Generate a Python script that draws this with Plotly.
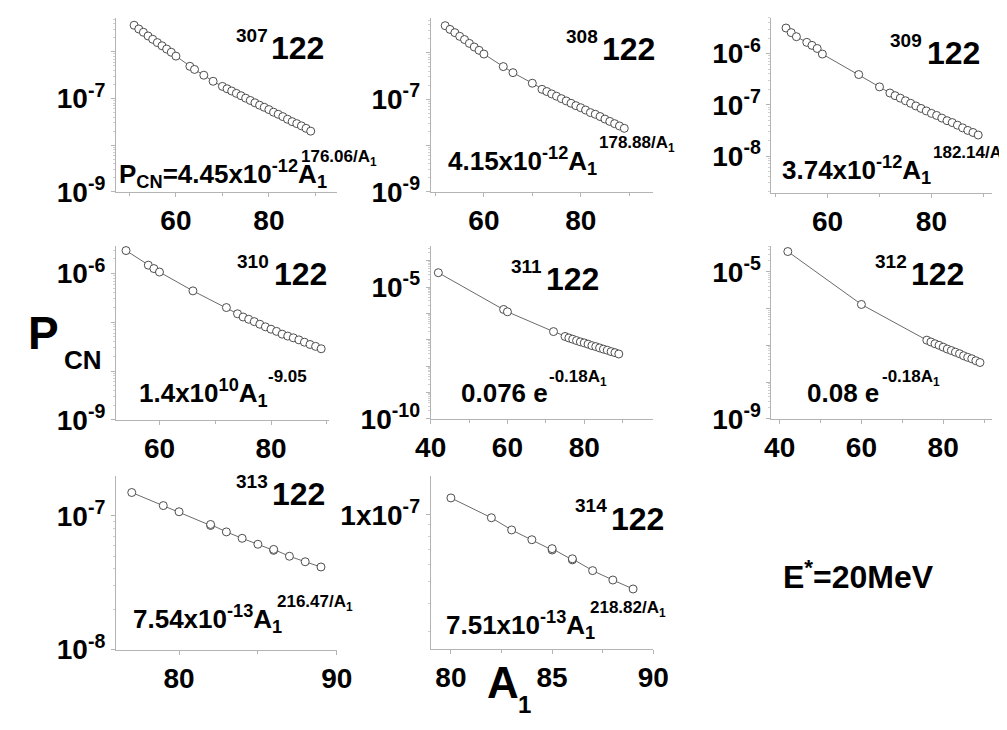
import math
import plotly.graph_objects as go

W, H = 1007, 730

# ---------------- data ----------------
a307 = [51, 52, 53, 54, 55, 56, 57, 58, 59, 60, 63, 64, 66, 68, 70, 71, 72, 73, 74, 75,
        76, 77, 78, 79, 80, 81, 82, 83, 84, 85, 86, 87, 88, 89]
p307 = [3.72e-6, 3.09e-6, 2.63e-6, 2.19e-6, 1.86e-6, 1.58e-6, 1.35e-6, 1.15e-6, 9.8e-7, 8.1e-7,
        4.9e-7, 4.2e-7, 3.16e-7, 2.34e-7, 1.82e-7, 1.62e-7, 1.45e-7, 1.29e-7, 1.15e-7, 1.02e-7,
        9.1e-8, 8.1e-8, 7.2e-8, 6.5e-8, 5.8e-8, 5.1e-8, 4.6e-8, 4.1e-8, 3.6e-8, 3.2e-8,
        2.9e-8, 2.6e-8, 2.3e-8, 2.0e-8]

a308 = [52, 53, 54, 55, 56, 57, 58, 59, 60, 64, 66, 70, 72, 73, 74, 75, 76, 77, 78, 79,
        80, 81, 82, 83, 84, 85, 86, 87, 88, 89]
p308 = [3.8e-6, 3.16e-6, 2.69e-6, 2.24e-6, 1.91e-6, 1.58e-6, 1.32e-6, 1.12e-6, 9.3e-7,
        5.0e-7, 3.7e-7, 2.19e-7, 1.62e-7, 1.45e-7, 1.29e-7, 1.15e-7, 1.02e-7, 9.1e-8, 8.1e-8,
        7.2e-8, 6.5e-8, 5.8e-8, 5.1e-8, 4.7e-8, 4.2e-8, 3.7e-8, 3.3e-8, 2.95e-8, 2.63e-8, 2.34e-8]

a309 = [52, 53, 54, 56, 57, 58, 59, 66, 70, 72, 73, 74, 75, 76, 77, 78, 79, 80, 81, 82,
        83, 84, 85, 86, 87, 88, 89]
p309 = [3.16e-6, 2.57e-6, 2.14e-6, 1.66e-6, 1.45e-6, 1.26e-6, 9.8e-7, 3.9e-7, 2.24e-7,
        1.70e-7, 1.51e-7, 1.35e-7, 1.20e-7, 1.07e-7, 9.5e-8, 8.5e-8, 7.6e-8, 6.8e-8, 6.2e-8,
        5.5e-8, 4.9e-8, 4.5e-8, 4.0e-8, 3.55e-8, 3.16e-8, 2.88e-8, 2.57e-8]

a310 = [54, 58, 59, 60, 66, 72, 74, 75, 76, 77, 78, 79, 80, 81, 82, 83, 84, 85, 86, 87, 88, 89]
p310 = [2.95e-6, 1.48e-6, 1.26e-6, 1.07e-6, 4.4e-7, 2.0e-7, 1.49e-7, 1.28e-7, 1.15e-7,
        1.03e-7, 9.1e-8, 8.05e-8, 7.2e-8, 6.5e-8, 5.7e-8, 5.2e-8, 4.8e-8, 4.35e-8, 3.9e-8,
        3.5e-8, 3.2e-8, 2.86e-8]

a311 = [42, 59, 60, 72, 75, 76, 77, 78, 79, 80, 81, 82, 83, 84, 85, 86, 87, 88, 89]
p311 = [3.5e-5, 1.41e-6, 1.15e-6, 2.04e-7, 1.33e-7, 1.17e-7, 1.05e-7, 9.3e-8, 8.3e-8,
        7.6e-8, 6.8e-8, 6.0e-8, 5.5e-8, 4.9e-8, 4.4e-8, 4.0e-8, 3.55e-8, 3.24e-8, 2.88e-8]

a312 = [42, 60, 76, 77, 78, 79, 80, 81, 82, 83, 84, 85, 86, 87, 88, 89]
p312 = [3.55e-5, 1.29e-6, 1.38e-7, 1.23e-7, 1.10e-7, 1.0e-7, 8.9e-8, 7.9e-8, 7.2e-8,
        6.5e-8, 5.9e-8, 5.2e-8, 4.7e-8, 4.3e-8, 3.8e-8, 3.4e-8]

a313 = [77, 79, 80, 82, 82, 83, 84, 85, 86, 86, 87, 88, 89]
p313 = [1.49e-7, 1.19e-7, 1.07e-7, 8.45e-8, 8.6e-8, 7.57e-8, 6.78e-8, 6.12e-8, 5.51e-8,
        5.6e-8, 4.98e-8, 4.53e-8, 4.14e-8]

a314 = [80, 82, 83, 84, 85, 85, 86, 86, 87, 88, 89]
p314 = [1.19e-7, 9.7e-8, 8.55e-8, 7.73e-8, 6.95e-8, 7.05e-8, 6.28e-8, 6.35e-8, 5.62e-8,
        5.1e-8, 4.65e-8]

iso_labels = ["307", "308", "309", "310", "311", "312", "313", "314"]

# ---------------- layout helpers ----------------
def fx(x):
    return x / W

def fy(y):
    return 1 - y / H

FONT = "Liberation Sans"
AX = "#b4b4b4"

panels = [
    dict(a=a307, p=p307, box=(95, 323, 10, 188), xr=[47.1, 94.6], yr=[-9, -5.27],
         xt=[60, 80], xm=[50, 70, 90], yt=[-9, -8, -7, -6], yl={-7: "10<sup>-7</sup>", -9: "10<sup>-9</sup>"}),
    dict(a=a308, p=p308, box=(420, 650, 10, 188), xr=[49, 95], yr=[-9, -5.25],
         xt=[60, 80], xm=[50, 70, 90], yt=[-9, -8, -7, -6], yl={-7: "10<sup>-7</sup>", -9: "10<sup>-9</sup>"}),
    dict(a=a309, p=p309, box=(772, 1000, 10, 189), xr=[49.2, 91.7], yr=[-8.72, -5.3],
         xt=[60, 80], xm=[50, 70, 90], yt=[-8, -7, -6], yl={-6: "10<sup>-6</sup>", -7: "10<sup>-7</sup>", -8: "10<sup>-8</sup>"}),
    dict(a=a310, p=p310, box=(95, 315, 243, 421), xr=[52.2, 90.4], yr=[-9, -5.43],
         xt=[60, 80], xm=[70, 90], yt=[-9, -8, -7, -6], yl={-6: "10<sup>-6</sup>", -9: "10<sup>-9</sup>"}),
    dict(a=a311, p=p311, box=(420, 650, 243, 420), xr=[40, 98], yr=[-10, -3.43],
         xt=[40, 60, 80], xm=[50, 70, 90], yt=[-10, -9, -8, -7, -6, -5, -4], yl={-5: "10<sup>-5</sup>", -10: "10<sup>-10</sup>"}),
    dict(a=a312, p=p312, box=(772, 1000, 243, 420), xr=[38, 92], yr=[-9, -4.29],
         xt=[40, 60, 80], xm=[50, 70, 90], yt=[-9, -8, -7, -6, -5], yl={-5: "10<sup>-5</sup>", -9: "10<sup>-9</sup>"}),
    dict(a=a313, p=p313, box=(95, 323, 478, 656), xr=[76, 90], yr=[-8, -6.7],
         xt=[80, 90], xm=[85], yt=[-8, -7], yl={-7: "10<sup>-7</sup>", -8: "10<sup>-8</sup>"}),
    dict(a=a314, p=p314, box=(420, 650, 478, 655), xr=[79, 90], yr=[-7.6, -6.824],
         xt=[80, 85, 90], xm=[82.5, 87.5], yt=[-7], yl={-7: "1x10<sup>-7</sup>"}),
]

fig = go.Figure()
layout = dict(width=W, height=H, margin=dict(l=0, r=0, t=0, b=0),
              paper_bgcolor="white", plot_bgcolor="white", showlegend=False)

tickfont = dict(family=FONT, size=28, color="black", weight="bold")

for i, pn in enumerate(panels):
    n = "" if i == 0 else str(i + 1)
    x0, x1, yt_, yb_ = pn["box"]
    fig.add_trace(go.Scatter(
        x=pn["a"], y=pn["p"], mode="lines+markers",
        line=dict(color="#6a6a6a", width=1),
        marker=dict(symbol="circle", size=8, color="white", line=dict(color="#3a3a3a", width=0.9)),
        xaxis="x" + n, yaxis="y" + n, cliponaxis=False))
    lo, hi = pn["yr"]
    yminor = []
    for d in range(int(lo) - 1, int(hi) + 1):
        for k in range(2, 10):
            v = k * 10.0 ** d
            if lo <= math.log10(v) <= hi:
                yminor.append(v)
    ytv = [10.0 ** e for e in pn["yt"]]
    ytt = [pn["yl"].get(e, "") for e in pn["yt"]]
    layout["xaxis" + n] = dict(
        domain=[fx(x0), fx(x1)], range=pn["xr"], anchor="y" + n,
        showline=True, linecolor=AX, linewidth=1, showgrid=False, zeroline=False,
        ticks="outside", ticklen=4, tickcolor=AX, tickvals=pn["xt"],
        ticktext=[str(v) for v in pn["xt"]], tickfont=tickfont,
        minor=dict(tickvals=pn["xm"], ticks="outside", ticklen=3, tickcolor=AX, showgrid=False))
    layout["yaxis" + n] = dict(
        domain=[fy(yb_), fy(yt_)], range=pn["yr"], type="log", anchor="x" + n,
        showline=True, linecolor=AX, linewidth=1, showgrid=False, zeroline=False,
        ticks="outside", ticklen=4, tickcolor=AX, tickvals=ytv, ticktext=ytt,
        tickfont=tickfont,
        minor=dict(tickvals=yminor, ticks="outside", ticklen=2, tickcolor="#cfcfcf", showgrid=False))

ann = []

def text(x, y, s, size, xanchor="left", yanchor="middle"):
    ann.append(dict(x=fx(x), y=fy(y), xref="paper", yref="paper", text=s, showarrow=False,
                    xanchor=xanchor, yanchor=yanchor,
                    font=dict(family=FONT, size=size, color="black", weight="bold")))

# isotope labels: (superscript right edge x, base left x, base center y)
iso_pos = [(252, 253, 47), (593, 595, 48), (928, 931, 52), (253, 256, 278),
           (535, 537, 283), (912, 914, 278), (252, 254, 503), (602, 604, 528)]
for lab, (xs, xb, yb) in zip(iso_labels, iso_pos):
    text(xs + 2, yb - 19, lab, 19, xanchor="right")
    text(xb, yb - 6, "122", 32)

# fit formulas: main part and exponent
text(96, 170, "P<sub>CN</sub>=4.45x10<sup>-12</sup>A<sub>1</sub>", 26)
text(284, 153, "176.06/A<sub>1</sub>", 17)
text(436, 156, "4.15x10<sup>-12</sup>A<sub>1</sub>", 26)
text(592, 139, "178.88/A<sub>1</sub>", 17)
text(781, 166, "3.74x10<sup>-12</sup>A<sub>1</sub>", 26)
text(937, 149, "182.14/A<sub>1</sub>", 17)
text(117, 394, "1.4x10<sup>10</sup>A<sub>1</sub>", 26)
text(250, 377, "-9.05", 17)
text(449, 394, "0.076 e", 26)
text(540, 378, "-0.18A<sub>1</sub>", 17)
text(807, 394, "0.08 e", 26)
text(884, 378, "-0.18A<sub>1</sub>", 17)
text(111, 625, "7.54x10<sup>-13</sup>A<sub>1</sub>", 26)
text(259, 608, "216.47/A<sub>1</sub>", 17)
text(434, 631, "7.51x10<sup>-13</sup>A<sub>1</sub>", 26)
text(582, 614, "218.82/A<sub>1</sub>", 17)

# axis titles
text(2, 332, "P", 46)
text(39, 360, "CN", 26)
text(476, 690, "A", 44)
text(508, 712, "1", 24)

# excitation energy
text(862, 580, "E<sup>*</sup>=20MeV", 32, xanchor="center")

layout["annotations"] = ann
fig.update_layout(**layout)
fig.write_html("out.html")
